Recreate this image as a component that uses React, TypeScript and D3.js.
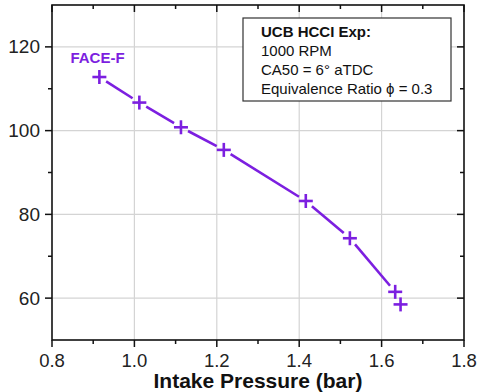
import React from "react";
import * as d3 from "d3";

const pressure = [0.915, 1.012, 1.113, 1.217, 1.416, 1.523, 1.633, 1.646];
const values = [112.8, 106.7, 100.8, 95.4, 83.2, 74.3, 61.5, 58.5];
const xTicks = [0.8, 1.0, 1.2, 1.4, 1.6, 1.8];
const yTicks = [60, 80, 100, 120];
const xMinor = [0.9, 1.1, 1.3, 1.5, 1.7];
const yMinor = [70, 90, 110];
const seriesLabel = "FACE-F";
const xTitle = "Intake Pressure (bar)";
const noteLines = ["UCB HCCI Exp:", "1000 RPM", "CA50 = 6° aTDC", "Equivalence Ratio ϕ = 0.3"];

const W = 478, H = 392;
const L = 52, R = 464, T = 5, B = 340;
const PURPLE = "#7c1fe0";
const FONT = "Liberation Sans, Arial, sans-serif";

export default function App() {
  const x = d3.scaleLinear().domain([0.8, 1.8]).range([L, R]);
  const y = d3.scaleLinear().domain([50, 130]).range([B, T]);
  const pts = pressure.map((p, i) => [x(p), y(values[i])] as [number, number]);
  const gap = 8;
  const segs: string[] = [];
  for (let i = 0; i < pts.length - 1; i++) {
    const [x0, y0] = pts[i];
    const [x1, y1] = pts[i + 1];
    const d = Math.hypot(x1 - x0, y1 - y0);
    if (d <= 2 * gap + 1) continue;
    const ux = (x1 - x0) / d, uy = (y1 - y0) / d;
    const path = d3.path();
    path.moveTo(x0 + ux * gap, y0 + uy * gap);
    path.lineTo(x1 - ux * gap, y1 - uy * gap);
    segs.push(path.toString());
  }
  const arm = 7;
  return (
    <div style={{ position: "absolute", left: 0, top: 0 }}>
      <svg width={W} height={H} style={{ display: "block", background: "#fff" }}>
        {/* grid */}
        {xTicks.filter((t) => t > 0.8 && t < 1.8).map((t) => (
          <line key={"gx" + t} x1={x(t)} x2={x(t)} y1={T} y2={B} stroke="#d4d4d4" strokeWidth={1.2} />
        ))}
        {yTicks.map((t) => (
          <line key={"gy" + t} x1={L} x2={R} y1={y(t)} y2={y(t)} stroke="#d4d4d4" strokeWidth={1.2} />
        ))}
        {/* frame */}
        <rect x={L} y={T} width={R - L} height={B - T} fill="none" stroke="#111" strokeWidth={1.6} />
        {xTicks.map((t) => (
          <g key={"xt" + t}>
            <line x1={x(t)} x2={x(t)} y1={B} y2={B + 7} stroke="#111" strokeWidth={1.5} />
            <line x1={x(t)} x2={x(t)} y1={T} y2={T + 7} stroke="#111" strokeWidth={1.5} />
            <text x={x(t)} y={B + 27} textAnchor="middle" fontFamily={FONT} fontSize={18.5} fill="#222">
              {d3.format(".1f")(t)}
            </text>
          </g>
        ))}
        {xMinor.map((t) => (
          <g key={"xm" + t}>
            <line x1={x(t)} x2={x(t)} y1={B} y2={B + 4} stroke="#111" strokeWidth={1.5} />
            <line x1={x(t)} x2={x(t)} y1={T} y2={T + 4} stroke="#111" strokeWidth={1.5} />
          </g>
        ))}
        {yTicks.map((t) => (
          <g key={"yt" + t}>
            <line x1={L - 7} x2={L} y1={y(t)} y2={y(t)} stroke="#111" strokeWidth={1.5} />
            <line x1={R - 7} x2={R} y1={y(t)} y2={y(t)} stroke="#111" strokeWidth={1.5} />
            <text x={L - 12} y={y(t) + 6.5} textAnchor="end" fontFamily={FONT} fontSize={19} fill="#222">
              {t}
            </text>
          </g>
        ))}
        {yMinor.map((t) => (
          <g key={"ym" + t}>
            <line x1={L - 4} x2={L} y1={y(t)} y2={y(t)} stroke="#111" strokeWidth={1.5} />
            <line x1={R - 4} x2={R} y1={y(t)} y2={y(t)} stroke="#111" strokeWidth={1.5} />
          </g>
        ))}
        {/* series */}
        {segs.map((d, i) => (
          <path key={"s" + i} d={d} stroke={PURPLE} strokeWidth={2.6} fill="none" />
        ))}
        {pts.map(([px, py], i) => (
          <g key={"m" + i} stroke={PURPLE} strokeWidth={2.6}>
            <line x1={px - arm} x2={px + arm} y1={py} y2={py} />
            <line x1={px} x2={px} y1={py - arm} y2={py + arm} />
          </g>
        ))}
        <text x={pts[0][0] - 29} y={pts[0][1] - 14} fontFamily={FONT} fontSize={15} fontWeight="bold" fill={PURPLE}>
          {seriesLabel}
        </text>
        {/* note box */}
        <rect x={243} y={18} width={208} height={83} fill="#fff" stroke="#333" strokeWidth={1.2} />
        {noteLines.map((s, i) => (
          <text key={"n" + i} x={261} y={36.5 + i * 19} fontFamily={FONT} fontSize={15}
            fontWeight={i === 0 ? "bold" : "normal"} fill="#111">
            {s}
          </text>
        ))}
        {/* axis title */}
        <text x={258} y={388} textAnchor="middle" fontFamily={FONT} fontSize={21} fontWeight="bold" fill="#111">
          {xTitle}
        </text>
      </svg>
    </div>
  );
}
